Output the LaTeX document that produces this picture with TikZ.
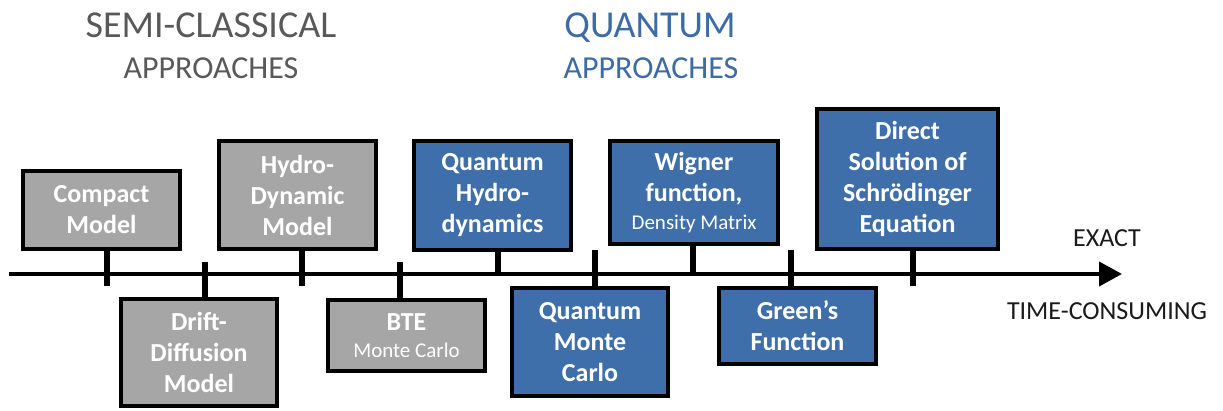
\documentclass[tikz,border=0pt]{standalone}
\usepackage{fontspec}
\setmainfont{Carlito}
\usetikzlibrary{arrows.meta}
\definecolor{boxgray}{HTML}{A6A6A6}
\definecolor{boxblue}{HTML}{3F6FAA}
\definecolor{titlegray}{HTML}{595959}
\definecolor{titleblue}{HTML}{3D6BA5}
\definecolor{axistext}{HTML}{1A1A1A}
\tikzset{
  mbox/.style={draw=black, line width=4pt, text=white, align=center, inner sep=0pt,
    font=\fontsize{26}{31}\selectfont\bfseries},
  gbox/.style={mbox, fill=boxgray},
  bbox/.style={mbox, fill=boxblue},
  stub/.style={line width=6pt},
  axisline/.style={line width=4pt, -{Triangle[length=23pt,width=24pt]}},
  bigtitle/.style={anchor=base, inner sep=0pt, font=\fontsize{38}{44}\selectfont},
  subtitle/.style={anchor=base, inner sep=0pt, font=\fontsize{32}{38}\selectfont},
  axislabel/.style={anchor=base, inner sep=0pt, text=axistext, font=\fontsize{26}{31}\selectfont},
}
\newcommand{\smalltxt}{\fontsize{21}{26}\mdseries\selectfont}
\begin{document}
\begin{tikzpicture}[x=1pt,y=-1pt]
\useasboundingbox (0,0) rectangle (1223,410);

% titles
\node[bigtitle, text=titlegray] (t1) at (211,37.5) {SEMI-CLASSICAL};
\node[subtitle, text=titlegray] (t2) at (211,78) {APPROACHES};
\node[bigtitle, text=titleblue] (t3) at (650,37.5) {QUANTUM};
\node[subtitle, text=titleblue] (t4) at (651,78) {APPROACHES};

% axis
\coordinate (astart) at (9,274);
\coordinate (aend) at (1122,274);
\draw[axisline] (astart) -- (aend);
\node[axislabel] (exact) at (1107,246.5) {EXACT};
\node[axislabel] (timec) at (1107,319.5) {TIME-CONSUMING};

% tick coordinates
\coordinate (k1) at (107,286);
\coordinate (k2) at (205,262);
\coordinate (k3) at (302,286);
\coordinate (k4) at (400,262);
\coordinate (k5) at (498,274);
\coordinate (k6) at (595,250);
\coordinate (k7) at (693,274);
\coordinate (k8) at (791,250);
\coordinate (k9) at (913,286);

% boxes
\node[gbox, minimum width=157pt, minimum height=78pt] (compact) at (101.5,210) {Compact\\Model};
\node[gbox, minimum width=157pt, minimum height=108pt] (hydro) at (297.5,195) {Hydro-\\Dynamic\\Model};
\node[gbox, minimum width=156pt, minimum height=107pt] (drift) at (199,352.5) {Drift-\\Diffusion\\Model};
\node[gbox, minimum width=157pt, minimum height=71pt] (bte) at (406.5,335.5) {BTE\\[-4pt]{\smalltxt Monte Carlo}};
\node[bbox, minimum width=157pt, minimum height=109pt] (qhd) at (492.5,195.5) {Quantum\\Hydro-\\dynamics};
\node[bbox, minimum width=156pt, minimum height=108pt] (qmc) at (590,342) {Quantum\\Monte\\Carlo};
\node[bbox, minimum width=168pt, minimum height=103pt] (wigner) at (694,192.5) {Wigner\\function,\\[-3pt]{\smalltxt Density Matrix}};
\node[bbox, minimum width=157pt, minimum height=76pt] (green) at (797.5,326) {Green’s\\Function};
\node[bbox, minimum width=181pt, minimum height=140pt] (direct) at (907.5,179) {Direct\\Solution of\\Schrödinger\\Equation};

% stubs
\draw[stub] (compact.south -| k1) -- (k1);
\draw[stub] (hydro.south -| k3) -- (k3);
\draw[stub] (qhd.south -| k5) -- (k5);
\draw[stub] (wigner.south -| k7) -- (k7);
\draw[stub] (direct.south -| k9) -- (k9);
\draw[stub] (k2) -- (drift.north -| k2);
\draw[stub] (k4) -- (bte.north -| k4);
\draw[stub] (k6) -- (qmc.north -| k6);
\draw[stub] (k8) -- (green.north -| k8);
\end{tikzpicture}
\end{document}
